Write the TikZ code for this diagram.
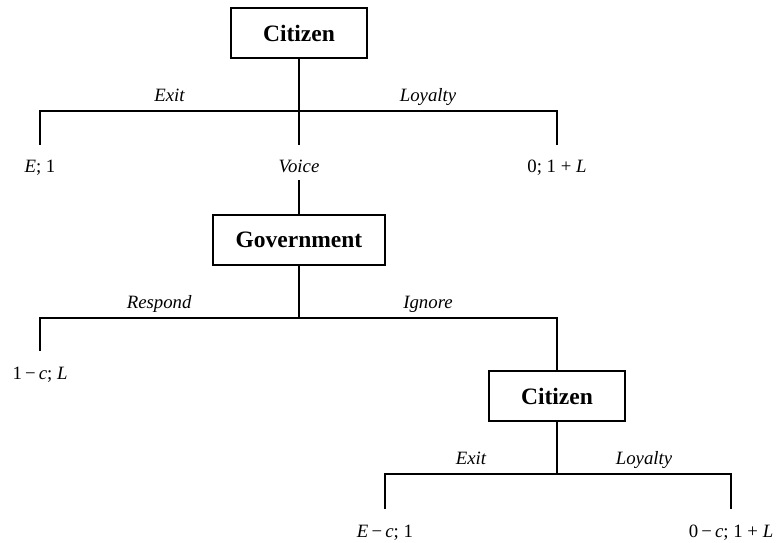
\documentclass[tikz,border=0pt]{standalone}
\usepackage{fontspec}
\setmainfont{Liberation Serif}
\usetikzlibrary{positioning}

\tikzset{%
  player/.style={draw, line width=1.8pt, minimum width=136pt, minimum height=50pt, font=\fontsize{23.5}{28}\selectfont\bfseries},
  payoff/.style={anchor=base, inner xsep=2pt, inner ysep=7.5pt, text height=12.5pt, text depth=0pt, font=\fontsize{18.8}{22}\selectfont},
  move/.style={payoff, font=\fontsize{18.8}{22}\selectfont\itshape},
  texto/.style={above, inner sep=6pt, text depth=3pt, font=\fontsize{18.8}{22}\selectfont\itshape},
  line/.style={draw, line width=1.5pt, color=black},
  toleaf/.style={shorten >=7.5pt},
}

\begin{document}
\begin{tikzpicture}[x=1pt, y=-1pt]
\useasboundingbox (0,0) rectangle (776,542);
% first move of the citizen
\node[player] (1) at (299,33) {Citizen};
\coordinate (j1) at (299,111);
\node[payoff] (2) at (40,172.5) {\textit{E}; 1};
\node[move] (3) at (299,172.5) {Voice};
\node[payoff] (4) at (557,172.5) {0; 1 + \textit{L}};
% government
\node[player, minimum width=172pt] (5) at (299,240) {Government};
\coordinate (j2) at (299,318);
\node[payoff] (6) at (40,379) {1\,−\,\textit{c}; \textit{L}};
% second move of the citizen
\node[player] (7) at (557,396) {Citizen};
\coordinate (j3) at (557,474);
\node[payoff] (8) at (385,537) {\textit{E}\,−\,\textit{c}; 1};
\node[payoff] (9) at (731,537) {0\,−\,\textit{c}; 1 + \textit{L}};

\draw[line] (1) -- (j1);
\draw[line, toleaf] (j1) -| node[texto, pos=.25] {Exit} (2);
\draw[line, toleaf] (j1) -| node[texto, pos=.25] {Loyalty} (4);
\draw[line, toleaf] (j1) -- (3);
\draw[line] (3) -- (5);
\draw[line] (5) -- (j2);
\draw[line, toleaf] (j2) -| node[texto, pos=.27] {Respond} (6);
\draw[line] (j2) -| node[texto, pos=.25] {Ignore} (7);
\draw[line] (7) -- (j3);
\draw[line, toleaf] (j3) -| node[texto, pos=.25] {Exit} (8);
\draw[line, toleaf] (j3) -| node[texto, pos=.25] {Loyalty} (9);
\end{tikzpicture}
\end{document}
